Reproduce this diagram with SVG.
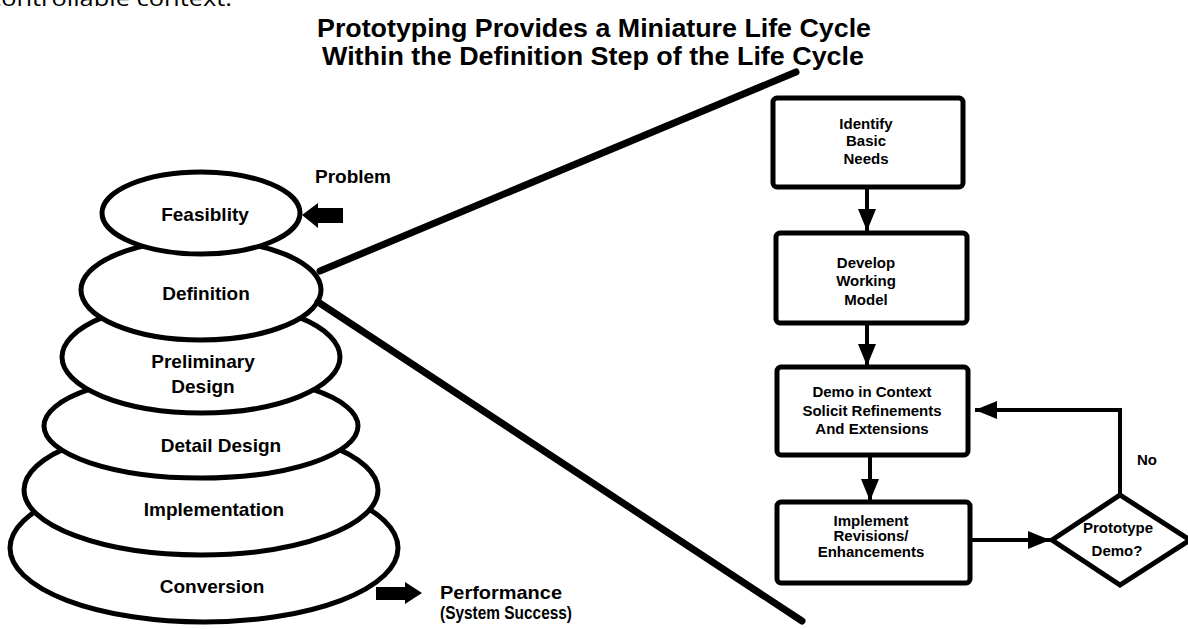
<svg xmlns="http://www.w3.org/2000/svg" width="1188" height="629" viewBox="0 0 1188 629">
<style>
.bg{fill:#fff}
.ell{fill:#fff;stroke:#000;stroke-width:5}
.lbl{font-family:"Liberation Sans",Arial,sans-serif;font-weight:bold;font-size:19px;fill:#000;text-anchor:middle}
.title{font-family:"Liberation Sans",Arial,sans-serif;font-weight:bold;font-size:25px;fill:#000}
.side{font-family:"Liberation Sans",Arial,sans-serif;font-weight:bold;font-size:19px;fill:#000}
.perf{font-family:"Liberation Sans",Arial,sans-serif;font-weight:bold;font-size:19px;fill:#000}
.box{fill:#fff;stroke:#000;stroke-width:5}
.btxt{font-family:"Liberation Sans",Arial,sans-serif;font-weight:bold;font-size:15px;fill:#000;text-anchor:middle}
.thick{stroke:#000;stroke-width:7;stroke-linecap:round;fill:none}
.conn{stroke:#000;stroke-width:4;fill:none}
.blk{fill:#000}
.top{font-family:"Open Sans","Liberation Sans",sans-serif;font-size:22px;fill:#000}
</style>
<defs>
<marker id="ah" markerUnits="userSpaceOnUse" viewBox="0 0 22 18" markerWidth="22" markerHeight="18" refX="22" refY="9" orient="auto">
<path d="M0,0 L22,9 L0,18 z" fill="#000"/>
</marker>
</defs>
<rect class="bg" x="0" y="0" width="1188" height="629"/>
<text class="top" x="-11" y="6" textLength="243" lengthAdjust="spacingAndGlyphs">controllable context.</text>
<g id="title">
<text class="title" x="317" y="37" textLength="554" lengthAdjust="spacingAndGlyphs">Prototyping Provides a Miniature Life Cycle</text>
<text class="title" x="322" y="65" textLength="542" lengthAdjust="spacingAndGlyphs">Within the Definition Step of the Life Cycle</text>
</g>
<g id="conversion"><ellipse class="ell" cx="204" cy="548" rx="194" ry="74"/><text class="lbl" x="212" y="593">Conversion</text></g>
<g id="implementation"><ellipse class="ell" cx="201" cy="490" rx="177" ry="65"/><text class="lbl" x="214" y="516">Implementation</text></g>
<g id="detail-design"><ellipse class="ell" cx="201" cy="426" rx="157" ry="52"/><text class="lbl" x="221" y="452">Detail Design</text></g>
<g id="preliminary-design"><ellipse class="ell" cx="201" cy="357" rx="139" ry="56"/><text class="lbl" x="203" y="368">Preliminary</text><text class="lbl" x="203" y="393">Design</text></g>
<g id="definition"><ellipse class="ell" cx="201" cy="290" rx="120" ry="50"/><text class="lbl" x="206" y="300">Definition</text></g>
<g id="feasibility"><ellipse class="ell" cx="201" cy="213" rx="99" ry="41"/><text class="lbl" x="205" y="221">Feasiblity</text></g>
<g id="problem">
<polygon class="blk" points="302,215 318,203 318,208 343,208 343,223 318,223 318,228"/>
<text class="side" x="315" y="183">Problem</text>
</g>
<g id="performance">
<polygon class="blk" points="376,587 405,587 405,582 422,593 405,604 405,600 376,600"/>
<text class="perf" x="440" y="599" textLength="122" lengthAdjust="spacingAndGlyphs">Performance</text>
<text class="perf" x="440" y="619" textLength="132" lengthAdjust="spacingAndGlyphs">(System Success)</text>
</g>
<g id="zoom-lines">
<line class="thick" x1="320" y1="271" x2="796" y2="72"/>
<line class="thick" x1="318" y1="302" x2="802" y2="621"/>
</g>
<g id="identify"><rect class="box" x="773" y="98" width="190" height="89" rx="4"/>
<text class="btxt" x="866" y="129">Identify</text><text class="btxt" x="866" y="146">Basic</text><text class="btxt" x="866" y="164">Needs</text></g>
<g id="develop"><rect class="box" x="776" y="233" width="191" height="90" rx="4"/>
<text class="btxt" x="866" y="268">Develop</text><text class="btxt" x="866" y="286">Working</text><text class="btxt" x="866" y="305">Model</text></g>
<g id="demo"><rect class="box" x="777" y="367" width="191" height="88" rx="4"/>
<text class="btxt" x="872" y="397">Demo in Context</text><text class="btxt" x="872" y="416">Solicit Refinements</text><text class="btxt" x="872" y="434">And Extensions</text></g>
<g id="implement"><rect class="box" x="777" y="502" width="193" height="81" rx="4"/>
<text class="btxt" x="871" y="526">Implement</text><text class="btxt" x="871" y="541">Revisions/</text><text class="btxt" x="871" y="557">Enhancements</text></g>
<g id="prototype-demo"><polygon class="box" points="1052,540 1120,495 1190,540 1120,585"/>
<text class="btxt" x="1118" y="533">Prototype</text><text class="btxt" x="1117" y="556">Demo?</text></g>
<g id="connectors">
<line class="conn" x1="867" y1="187" x2="867" y2="231" marker-end="url(#ah)"/>
<line class="conn" x1="867" y1="323" x2="867" y2="366" marker-end="url(#ah)"/>
<line class="conn" x1="870" y1="455" x2="870" y2="501" marker-end="url(#ah)"/>
<line class="conn" x1="970" y1="540" x2="1050" y2="540" marker-end="url(#ah)"/>
<polyline class="conn" points="1120,495 1120,410 975,410" marker-end="url(#ah)"/>
<text class="btxt" x="1147" y="465">No</text>
</g>
</svg>
